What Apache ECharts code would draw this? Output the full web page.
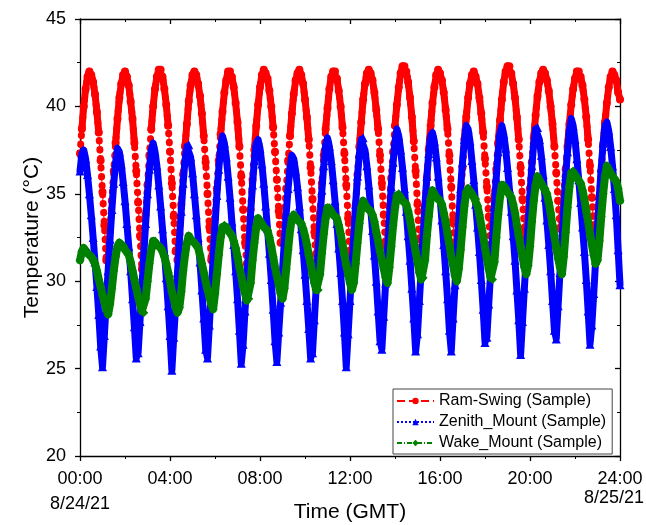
<!DOCTYPE html>
<html>
<head>
<meta charset="utf-8">
<title>Temperature (GMT)</title>
<script src="https://cdn.jsdelivr.net/npm/echarts@6/dist/echarts.min.js"></script>
<style>
  html, body { margin: 0; padding: 0; background: #ffffff; }
  #chart { width: 646px; height: 525px; }
</style>
</head>
<body>
<div id="chart"></div>
<script>
// Sensor readings every 5 minutes, 8/24/21 00:00 to 8/25/21 00:00 (GMT), in °C
const sampleStepMin = 5;

const ramSwing = [
  37.3, 38.7, 40.0, 41.0, 41.7, 42.0,
  41.8, 41.4, 40.7, 39.7, 38.5, 36.9, 35.1, 33.2, 31.2,
  31.4, 32.9, 34.6, 36.3, 37.9, 39.3, 40.5, 41.3, 41.8,
  42.0, 41.7, 41.2, 40.3, 39.3, 37.9, 36.3, 34.5, 32.6,
  30.7, 32.2, 33.8, 35.5, 37.2, 38.7, 40.0, 41.0, 41.7, 42.1,
  42.1, 41.7, 41.0, 40.1, 38.9, 37.4, 35.6, 33.7, 31.7,
  31.2, 32.7, 34.4, 36.1, 37.7, 39.0, 40.3, 41.2, 41.8, 42.0,
  41.8, 41.3, 40.6, 39.6, 38.3, 36.8, 35.0, 33.1, 31.2,
  32.0, 33.6, 35.3, 36.9, 38.4, 39.7, 40.8, 41.5, 42.0,
  42.0, 41.7, 41.1, 40.2, 39.1, 37.7, 36.0, 34.1, 32.2,
  31.0, 32.5, 34.1, 35.8, 37.5, 38.9, 40.1, 41.1, 41.8, 42.1,
  41.9, 41.6, 40.9, 40.0, 38.8, 37.4, 35.8, 34.0, 32.2,
  32.3, 33.7, 35.3, 36.9, 38.3, 39.6, 40.7, 41.5, 41.9,
  42.1, 41.8, 41.3, 40.4, 39.4, 38.1, 36.5, 34.7, 32.8,
  30.9, 32.3, 33.9, 35.6, 37.2, 38.7, 39.9, 41.0, 41.7, 42.0,
  42.0, 41.6, 40.9, 40.0, 38.8, 37.3, 35.5, 33.6, 31.6,
  31.1, 32.6, 34.3, 36.1, 37.7, 39.1, 40.4, 41.3, 41.9, 42.1,
  41.9, 41.5, 40.8, 39.8, 38.7, 37.2, 35.6, 33.8, 32.0,
  32.8, 34.3, 35.9, 37.4, 38.9, 40.1, 41.1, 41.9, 42.3,
  42.3, 42.0, 41.4, 40.5, 39.4, 38.0, 36.3, 34.4, 32.4,
  31.2, 32.6, 34.3, 35.9, 37.5, 38.9, 40.2, 41.1, 41.8, 42.1,
  41.9, 41.5, 40.8, 39.8, 38.7, 37.2, 35.4, 33.5, 31.6,
  31.7, 33.2, 34.9, 36.5, 38.1, 39.4, 40.5, 41.3, 41.8,
  42.0, 41.7, 41.3, 40.5, 39.6, 38.5, 37.0, 35.4, 33.7,
  32.1, 33.4, 34.9, 36.4, 37.9, 39.2, 40.4, 41.4, 42.0, 42.3,
  42.3, 41.9, 41.3, 40.5, 39.4, 38.1, 36.5, 34.7, 32.9,
  32.4, 33.7, 35.3, 36.8, 38.2, 39.5, 40.6, 41.4, 41.9, 42.1,
  41.9, 41.5, 40.9, 40.0, 39.0, 37.7, 36.2, 34.6, 33.0,
  33.7, 35.0, 36.4, 37.7, 39.0, 40.1, 41.0, 41.6, 42.0,
  42.0, 41.7, 41.2, 40.4, 39.4, 38.1, 36.6, 34.8, 33.1,
  32.0, 33.3, 34.8, 36.3, 37.8, 39.1, 40.2, 41.1, 41.7, 42.0,
  41.8, 41.5, 40.8, 40.4
];

const zenithMount = [
  36.3, 37.3, 37.5, 37.0, 36.1, 35.0, 33.8, 32.5, 31.1, 29.7, 28.1, 26.3,
  25.1, 26.9, 28.8, 30.6, 32.4, 34.1, 35.6, 36.8, 37.6,
  37.4, 36.7, 35.7, 34.6, 33.3, 32.0, 30.6, 29.0, 27.4, 25.6,
  25.9, 27.7, 29.6, 31.5, 33.3, 35.0, 36.4, 37.5,
  37.9, 37.4, 36.6, 35.5, 34.3, 33.0, 31.7, 30.2, 28.6, 26.9, 24.9,
  26.8, 28.6, 30.5, 32.3, 34.0, 35.6, 36.9, 37.7,
  37.8, 37.1, 36.2, 35.0, 33.8, 32.5, 31.1, 29.5, 27.9, 26.1,
  25.6, 27.5, 29.4, 31.3, 33.2, 34.9, 36.4, 37.6, 38.3,
  37.9, 37.1, 36.0, 34.8, 33.4, 32.1, 30.6, 29.0, 27.2, 25.3,
  26.4, 28.3, 30.1, 32.0, 33.9, 35.5, 36.9, 37.9,
  38.1, 37.6, 36.7, 35.6, 34.3, 33.0, 31.6, 30.1, 28.4, 26.6,
  25.4, 27.1, 28.8, 30.6, 32.3, 33.9, 35.3, 36.5, 37.2,
  37.0, 36.3, 35.4, 34.3, 33.0, 31.8, 30.4, 28.9, 27.3, 25.6,
  25.9, 27.8, 29.7, 31.6, 33.5, 35.2, 36.6, 37.8,
  38.2, 37.7, 36.9, 35.8, 34.6, 33.3, 31.9, 30.5, 28.9, 27.1, 25.1,
  27.0, 28.9, 30.7, 32.6, 34.4, 36.0, 37.3, 38.1,
  38.2, 37.5, 36.6, 35.5, 34.2, 32.9, 31.5, 30.0, 28.3, 26.6,
  26.1, 28.0, 29.9, 31.7, 33.6, 35.4, 36.8, 38.0, 38.7,
  38.3, 37.5, 36.5, 35.3, 34.0, 32.6, 31.2, 29.6, 27.9, 26.0,
  27.0, 28.9, 30.7, 32.6, 34.4, 36.0, 37.3, 38.3,
  38.5, 38.0, 37.1, 36.0, 34.8, 33.5, 32.1, 30.6, 29.0, 27.2,
  26.0, 27.9, 29.8, 31.7, 33.5, 35.3, 36.8, 38.1, 38.9,
  38.7, 38.0, 36.9, 35.8, 34.4, 33.1, 31.7, 30.1, 28.4, 26.5,
  26.8, 28.7, 30.5, 32.4, 34.3, 35.9, 37.4, 38.5,
  38.9, 38.4, 37.6, 36.5, 35.3, 34.0, 32.6, 31.2, 29.5, 27.8, 25.8,
  27.7, 29.6, 31.4, 33.2, 35.0, 36.6, 37.9, 38.7,
  38.8, 38.1, 37.2, 36.1, 34.8, 33.5, 32.1, 30.6, 28.9, 27.2,
  26.7, 28.6, 30.5, 32.3, 34.2, 36.0, 37.4, 38.6, 39.3,
  38.9, 38.1, 37.0, 35.8, 34.5, 33.1, 31.7, 30.1, 28.3, 26.4,
  27.5, 29.3, 31.2, 33.1, 34.9, 36.5, 37.9, 38.9,
  39.1, 38.6, 37.7, 36.6, 35.3, 33.8, 31.8, 29.8
];

const wakeMount = [
  31.2, 31.7,
  31.9, 31.8, 31.6, 31.5, 31.4, 31.3, 31.0, 30.6, 30.1, 29.7, 29.2, 28.8, 28.4, 28.1,
  28.7, 29.6, 30.6, 31.4, 32.0,
  32.2, 32.1, 32.0, 31.8, 31.7, 31.5, 31.1, 30.6, 30.1, 29.6, 29.1, 28.7, 28.3,
  28.2, 29.0, 30.0, 31.0, 31.8, 32.3,
  32.3, 32.1, 32.0, 31.9, 31.7, 31.4, 31.0, 30.5, 30.0, 29.4, 29.0, 28.5, 28.2,
  28.5, 29.4, 30.6, 31.5, 32.2,
  32.6, 32.4, 32.3, 32.2, 32.1, 31.9, 31.5, 31.0, 30.5, 30.0, 29.5, 29.1, 28.7,
  28.4, 29.3, 30.4, 31.5, 32.5, 33.1,
  33.2, 33.1, 32.9, 32.8, 32.6, 32.3, 31.9, 31.4, 30.8, 30.3, 29.7, 29.3, 28.9,
  29.0, 29.9, 31.2, 32.2, 33.1, 33.6,
  33.5, 33.3, 33.1, 33.0, 32.9, 32.5, 32.0, 31.4, 30.8, 30.3, 29.8, 29.3, 29.0,
  29.6, 30.7, 31.8, 32.9, 33.6,
  33.8, 33.7, 33.5, 33.4, 33.3, 33.0, 32.6, 32.1, 31.5, 31.0, 30.4, 29.9, 29.5,
  29.5, 30.4, 31.6, 32.7, 33.6, 34.2,
  34.2, 34.0, 33.8, 33.7, 33.6, 33.2, 32.7, 32.1, 31.5, 30.9, 30.4, 29.9, 29.5,
  29.9, 31.0, 32.2, 33.3, 34.2,
  34.6, 34.4, 34.2, 34.1, 34.0, 33.8, 33.4, 32.8, 32.3, 31.7, 31.2, 30.7, 30.2,
  29.9, 30.8, 32.0, 33.2, 34.2, 34.9,
  35.0, 34.8, 34.6, 34.5, 34.4, 34.0, 33.5, 32.9, 32.3, 31.7, 31.1, 30.5, 30.1,
  30.2, 31.2, 32.6, 33.7, 34.7, 35.2,
  35.0, 34.8, 34.7, 34.6, 34.4, 33.9, 33.4, 32.7, 32.1, 31.4, 30.9, 30.3, 30.0,
  30.7, 31.8, 33.1, 34.3, 35.1,
  35.3, 35.2, 35.0, 34.8, 34.7, 34.3, 33.8, 33.2, 32.6, 31.9, 31.3, 30.7, 30.2,
  30.1, 31.1, 32.5, 33.8, 34.8, 35.5,
  35.5, 35.3, 35.1, 35.0, 34.8, 34.4, 33.9, 33.2, 32.6, 32.0, 31.4, 30.8, 30.4,
  30.9, 32.0, 33.4, 34.6, 35.5,
  36.0, 35.8, 35.6, 35.4, 35.3, 35.0, 34.5, 33.9, 33.2, 32.6, 31.9, 31.3, 30.8,
  30.4, 31.4, 32.8, 34.2, 35.4, 36.2,
  36.3, 36.1, 35.9, 35.8, 35.6, 35.2, 34.7, 34.0, 33.4, 32.7, 32.1, 31.5, 31.0,
  31.2, 32.3, 33.7, 35.0, 36.0, 36.6,
  36.4, 36.2, 36.0, 35.9, 35.7, 35.3, 34.6
];

const seriesNames = ['Ram-Swing (Sample)', 'Zenith_Mount (Sample)', 'Wake_Mount (Sample)'];
const seriesColors = ['#ff0000', '#0000ff', '#008000'];
const xTickLabels = ['00:00', '04:00', '08:00', '12:00', '16:00', '20:00', '24:00'];
const startDate = '8/24/21';
const endDate = '8/25/21';

const FONT = "'Liberation Sans', Arial, Helvetica, sans-serif";
const minutesOf = vals => vals.map((v, i) => [i * sampleStepMin, v]);

const chart = echarts.init(document.getElementById('chart'), null, { renderer: 'canvas' });

const axisLineStyle = { color: '#000', width: 1.3 };
const minorTickStyle = { color: '#000', width: 1 };

// Heavy trace drawn under the sample markers so that densely logged stretches
// read as a continuous band; a dotted pattern is used where the readings swing fast.
function traceSeries(id, points, color, width, dash, z) {
  return {
    name: id,
    type: 'line',
    data: points,
    symbol: 'none',
    silent: true,
    connectNulls: false,
    lineStyle: { color: color, width: width, type: dash, cap: 'round', join: 'round' },
    z: z
  };
}
function markerSeries(name, vals, color, symbol, size, dash, z) {
  return {
    name: name,
    type: 'line',
    data: minutesOf(vals),
    symbol: symbol,
    symbolSize: size,
    showAllSymbol: true,
    itemStyle: { color: color },
    lineStyle: { color: color, width: 1, type: dash },
    z: z
  };
}

// Warm part of each Ram-Swing swing, where the logged points sit closely together
const ramSwingWarm = minutesOf(ramSwing).map(p => (p[1] >= 37.5 ? p : [p[0], null]));

const option = {
  animation: false,
  backgroundColor: '#ffffff',
  textStyle: { fontFamily: FONT, color: '#000' },
  grid: { left: 80, right: 26, top: 19, bottom: 69, containLabel: false, outerBoundsMode: 'none' },
  legend: {
    orient: 'vertical',
    left: 393,
    top: 389,
    padding: [4, 6, 3, 3],
    itemGap: 5,
    itemWidth: 37,
    itemHeight: 8,
    borderColor: '#444',
    borderWidth: 1,
    borderRadius: 0,
    backgroundColor: '#ffffff',
    textStyle: { fontFamily: FONT, fontSize: 16, color: '#000' },
    data: seriesNames
  },
  xAxis: [
    {
      type: 'value',
      min: 0,
      max: 1440,
      interval: 240,
      position: 'bottom',
      name: 'Time (GMT)',
      nameLocation: 'middle',
      nameGap: 46,
      nameMoveOverlap: false,
      nameTextStyle: { fontFamily: FONT, fontSize: 21, color: '#000' },
      axisLine: { show: true, onZero: false, lineStyle: axisLineStyle },
      axisTick: { show: true, inside: false, length: 5, lineStyle: axisLineStyle },
      minorTick: { show: true, splitNumber: 2, length: 3, lineStyle: minorTickStyle },
      splitLine: { show: false },
      axisLabel: {
        show: true,
        margin: 12,
        showMinLabel: true,
        showMaxLabel: true,
        hideOverlap: false,
        formatter: function (v) {
          const idx = Math.round(v / 240);
          let s = '{t|' + xTickLabels[idx] + '}';
          if (idx === 0) s += '\n{d|' + startDate + '}';
          if (idx === xTickLabels.length - 1) s += '\n{e|' + endDate + '}';
          return s;
        },
        rich: {
          t: { fontFamily: FONT, fontSize: 18, color: '#000', lineHeight: 22 },
          d: { fontFamily: FONT, fontSize: 18, color: '#000', lineHeight: 28 },
          e: { fontFamily: FONT, fontSize: 18, color: '#000', lineHeight: 16, padding: [0, 12, 0, 0] }
        }
      }
    },
    {
      type: 'value',
      min: 0,
      max: 1440,
      interval: 240,
      position: 'top',
      axisLine: { show: true, onZero: false, lineStyle: axisLineStyle },
      axisTick: { show: true, inside: true, length: 5, lineStyle: axisLineStyle },
      minorTick: { show: true, splitNumber: 2, length: 3, lineStyle: minorTickStyle },
      splitLine: { show: false },
      axisLabel: { show: false }
    }
  ],
  yAxis: [
    {
      type: 'value',
      min: 20,
      max: 45,
      interval: 5,
      position: 'left',
      name: 'Temperature (°C)',
      nameLocation: 'middle',
      nameGap: 37,
      nameRotate: 90,
      nameMoveOverlap: false,
      nameTextStyle: { fontFamily: FONT, fontSize: 21, color: '#000' },
      axisLine: { show: true, onZero: false, lineStyle: axisLineStyle },
      axisTick: { show: true, inside: false, length: 5, lineStyle: axisLineStyle },
      minorTick: { show: true, splitNumber: 2, length: 3, lineStyle: minorTickStyle },
      splitLine: { show: false },
      axisLabel: { margin: 14, fontFamily: FONT, fontSize: 18, color: '#000' }
    },
    {
      type: 'value',
      min: 20,
      max: 45,
      interval: 5,
      position: 'right',
      axisLine: { show: true, onZero: false, lineStyle: axisLineStyle },
      axisTick: { show: true, inside: true, length: 5, lineStyle: axisLineStyle },
      minorTick: { show: true, splitNumber: 2, length: 3, lineStyle: minorTickStyle },
      splitLine: { show: false },
      axisLabel: { show: false }
    }
  ],
  series: [
    traceSeries('ram-swing-fast', minutesOf(ramSwing), seriesColors[0], 7, [0.5, 8.5], 2),
    traceSeries('ram-swing-warm', ramSwingWarm, seriesColors[0], 7, 'solid', 2),
    markerSeries(seriesNames[0], ramSwing, seriesColors[0], 'circle', 8, 'dashed', 3),
    traceSeries('zenith-mount-trace', minutesOf(zenithMount), seriesColors[1], 7, 'solid', 4),
    markerSeries(seriesNames[1], zenithMount, seriesColors[1], 'triangle', 9, 'dotted', 5),
    traceSeries('wake-mount-trace', minutesOf(wakeMount), seriesColors[2], 8, 'solid', 6),
    markerSeries(seriesNames[2], wakeMount, seriesColors[2], 'diamond', 9, [5, 2, 1, 2], 7)
  ]
};

chart.setOption(option);
</script>
</body>
</html>
